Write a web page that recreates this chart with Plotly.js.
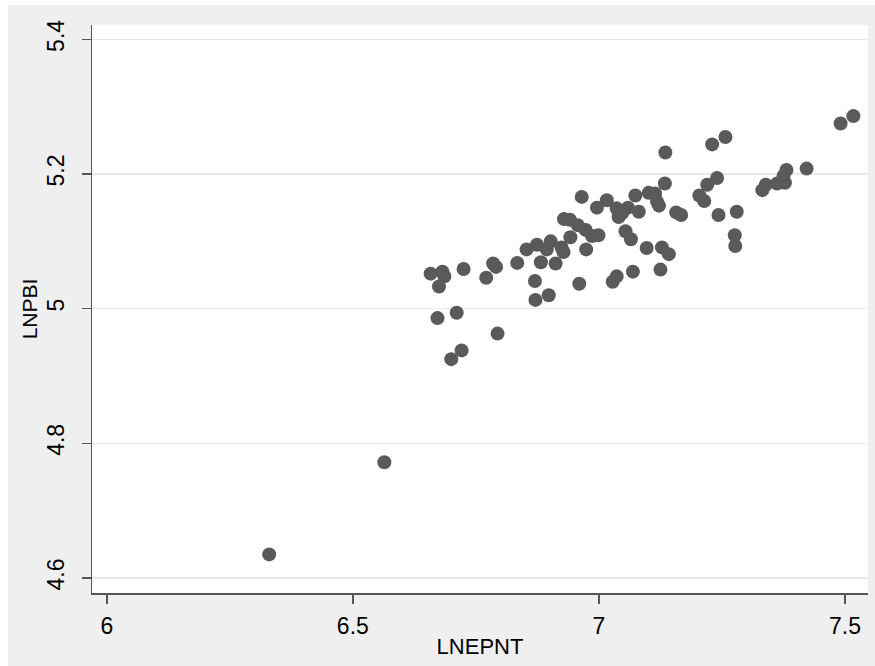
<!DOCTYPE html>
<html>
<head>
<meta charset="utf-8">
<script src="https://cdn.plot.ly/plotly-3.0.1.min.js"></script>
<style>
html, body { margin: 0; padding: 0; background: #ffffff; }
#chart { position: absolute; left: 8px; top: 5px; width: 867px; height: 661px; }
</style>
</head>
<body>
<div id="chart"></div>
<script>
// LNEPNT values (x)
var lnepnt = [
  6.658, 6.682, 6.686, 6.675, 6.725, 6.771, 6.785, 6.791, 6.834, 6.853,
  6.874, 6.894, 6.902, 6.882, 6.912, 6.870, 6.871, 6.898, 6.929, 6.941,
  6.957, 6.973, 6.986, 6.999, 6.965, 6.924, 6.928, 6.942, 6.974, 6.960,
  6.996, 7.016, 7.036, 7.040, 7.059, 7.074, 7.081, 7.054, 7.065, 7.097,
  7.128, 7.142, 7.125, 7.069, 7.036, 7.028, 7.101, 7.114, 7.118, 7.122,
  7.134, 7.135, 7.157, 7.167, 7.204, 7.214, 7.220, 7.240, 7.230, 7.257,
  7.243, 7.280, 7.276, 7.277, 7.332, 7.339, 7.362, 7.378, 7.375, 7.381,
  7.422, 7.491, 7.517, 6.672, 6.711, 6.794, 6.700, 6.721, 6.330, 6.564,
  7.047
];
// LNPBI values (y)
var lnpbi = [
  5.052, 5.055, 5.048, 5.033, 5.059, 5.046, 5.067, 5.062, 5.068, 5.088,
  5.095, 5.088, 5.100, 5.069, 5.067, 5.041, 5.013, 5.020, 5.133, 5.132,
  5.124, 5.117, 5.108, 5.109, 5.166, 5.091, 5.084, 5.106, 5.088, 5.037,
  5.150, 5.161, 5.149, 5.136, 5.150, 5.168, 5.144, 5.115, 5.103, 5.090,
  5.091, 5.081, 5.058, 5.055, 5.048, 5.040, 5.172, 5.171, 5.159, 5.153,
  5.186, 5.232, 5.143, 5.139, 5.168, 5.160, 5.184, 5.194, 5.244, 5.255,
  5.139, 5.144, 5.109, 5.093, 5.176, 5.184, 5.186, 5.187, 5.197, 5.206,
  5.208, 5.275, 5.286, 4.986, 4.994, 4.963, 4.925, 4.938, 4.635, 4.772,
  5.142
];
var xTickVals = [6, 6.5, 7, 7.5];
var xTickText = ["6", "6.5", "7", "7.5"];
var yTickVals = [4.6, 4.8, 5, 5.2, 5.4];
var yTickText = ["4.6", "4.8", "5", "5.2", "5.4"];

var trace = {
  type: 'scatter',
  mode: 'markers',
  x: lnepnt,
  y: lnpbi,
  marker: { size: 14, color: '#5a5a5a', line: { width: 0 } },
  hoverinfo: 'x+y'
};

var fontFam = 'Liberation Sans, Arial, Helvetica, sans-serif';

var layout = {
  width: 867,
  height: 661,
  paper_bgcolor: '#efefef',
  plot_bgcolor: '#ffffff',
  margin: { l: 84, r: 7, t: 20, b: 73, pad: 0 },
  showlegend: false,
  font: { family: fontFam, color: '#000000', size: 22 },
  xaxis: {
    range: [5.970, 7.5467],
    tickvals: xTickVals,
    ticktext: xTickText,
    ticks: 'outside',
    ticklen: 9,
    tickwidth: 1.5,
    tickcolor: '#555555',
    showgrid: false,
    zeroline: false,
    showline: true,
    linecolor: '#555555',
    linewidth: 1.5,
    tickfont: { family: fontFam, size: 23, color: '#000000' },
    ticklabelstandoff: 3,
    title: { text: 'LNEPNT', font: { family: fontFam, size: 22, color: '#000000' }, standoff: 0 },
    automargin: false
  },
  yaxis: {
    range: [4.5777, 5.4213],
    tickvals: yTickVals,
    ticktext: yTickText,
    tickangle: -90,
    ticks: 'outside',
    ticklen: 9,
    tickwidth: 1.5,
    tickcolor: '#555555',
    showgrid: true,
    gridcolor: '#eaeaea',
    gridwidth: 1.5,
    zeroline: false,
    showline: true,
    linecolor: '#555555',
    linewidth: 1.5,
    tickfont: { family: fontFam, size: 23, color: '#000000' },
    ticklabelstandoff: 8,
    title: { text: 'LNPBI', font: { family: fontFam, size: 21, color: '#000000' }, standoff: 0 },
    automargin: false
  }
};

Plotly.newPlot('chart', [trace], layout, { displayModeBar: false, staticPlot: true });
</script>
</body>
</html>
